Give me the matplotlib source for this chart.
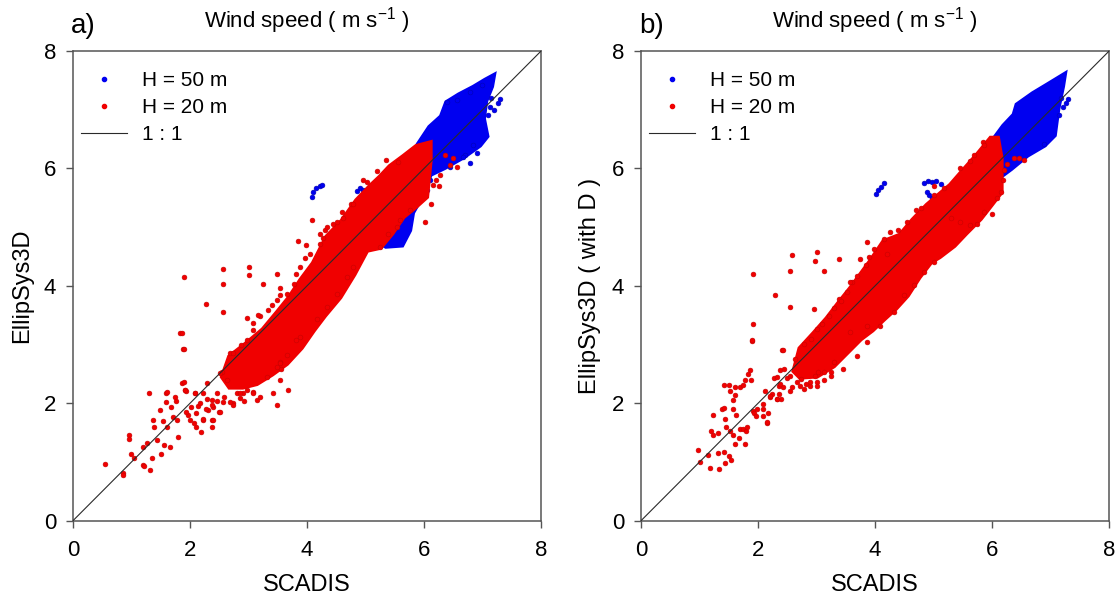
import matplotlib
matplotlib.use("Agg")
import matplotlib.pyplot as plt
from matplotlib.lines import Line2D

plt.rcParams['font.family'] = ['Liberation Sans', 'DejaVu Sans']
plt.rcParams['mathtext.fontset'] = 'custom'
plt.rcParams['mathtext.rm'] = 'Liberation Sans'
plt.rcParams['mathtext.it'] = 'Liberation Sans:italic'

# ---- panel a) : dense cores (outline of the solid clouds) ----
a_red_core_x = [2.56, 2.68, 2.95, 3.25, 3.50, 3.71, 3.90, 4.11, 4.34, 4.60, 4.85, 5.08, 5.25,
                5.42, 5.65, 5.87, 6.10, 6.10, 6.04, 5.85, 5.64, 5.45, 5.25, 5.02, 4.80, 4.56,
                4.30, 4.11, 3.90, 3.65, 3.40, 3.14, 2.90, 2.68]
a_red_core_y = [2.45, 2.79, 3.00, 3.25, 3.55, 3.81, 4.10, 4.38, 4.83, 5.10, 5.45, 5.69, 5.85,
                6.03, 6.20, 6.37, 6.43, 6.14, 5.52, 5.35, 5.18, 4.90, 4.66, 4.61, 4.20, 3.81,
                3.50, 3.25, 2.95, 2.68, 2.50, 2.34, 2.28, 2.28]
a_blue_core_x = [5.90, 6.10, 6.30, 6.39, 6.60, 6.85, 7.05, 7.18, 7.15, 7.05, 7.01, 7.07, 6.95,
                 6.67, 6.35, 6.10, 6.00, 5.80, 5.75, 5.62, 5.35, 5.18, 5.25, 5.45, 5.55, 5.70]
a_blue_core_y = [6.40, 6.70, 6.88, 7.12, 7.25, 7.38, 7.50, 7.57, 7.40, 7.15, 6.85, 6.55, 6.40,
                 6.20, 6.02, 5.90, 5.60, 5.25, 4.95, 4.70, 4.68, 4.78, 4.90, 5.05, 5.40, 5.80]

# ---- panel a) : scattered points (outliers + ragged edge of the cloud) ----
a_red_x = [0.55, 0.86, 0.86, 0.95, 0.96, 1.00, 1.04, 1.19, 1.20, 1.22, 1.30, 1.32, 1.27, 1.35,
           1.36, 1.38, 1.43, 1.49, 1.50, 1.54, 1.56, 1.59, 1.61, 1.59, 1.61, 1.65, 1.67, 1.71,
           1.74, 1.76, 1.77, 1.80, 1.83, 1.88, 1.86, 1.91, 1.94, 1.97, 2.00, 2.01, 2.09, 2.11,
           2.10, 2.14, 2.18, 2.23, 2.29, 2.29, 2.31, 2.37, 2.37, 2.40, 2.46, 2.46, 2.50, 2.54,
           2.58, 2.63, 2.68, 2.74, 2.80, 2.86, 2.91, 2.93, 2.97, 3.08, 3.14,
           1.89, 2.57, 3.01, 2.57, 3.00, 3.48, 3.25, 2.28, 2.56, 1.89, 1.86, 3.85, 3.99, 3.53,
           2.97, 3.20, 3.08, 1.89, 1.92, 2.09, 1.94, 2.06, 2.23, 2.40, 2.37, 2.51, 2.57, 2.74,
           2.85, 3.08, 3.20, 3.54, 3.56, 3.54, 3.65, 3.88, 3.68, 3.42, 3.48, 2.17, 2.37, 2.28,
           2.68, 2.23, 2.51,
           6.02, 6.16, 6.25, 6.27, 6.36, 6.44, 6.56, 6.50, 4.76, 5.02, 5.56, 5.59, 5.76,
           4.45, 4.60, 4.30, 4.95, 5.20, 5.35, 6.12, 6.20,
           3.08, 3.17, 3.34, 3.40, 3.48, 3.54, 3.65, 3.77, 3.82, 3.88, 3.97, 4.05, 4.22, 4.28,
           2.97, 2.88, 2.74, 4.22, 4.34, 4.51, 4.62, 4.79, 4.08,
           3.54, 3.82, 4.17, 4.34, 4.51, 4.68, 4.79, 3.31, 3.48, 5.53, 5.39, 5.25]
a_red_y = [0.96, 0.81, 0.78, 1.46, 1.39, 1.13, 1.06, 1.26, 0.95, 0.93, 2.17, 0.87, 1.32, 1.06,
           1.72, 1.60, 1.37, 1.89, 1.14, 1.70, 1.29, 2.17, 2.19, 2.02, 1.59, 1.26, 1.93, 1.77,
           2.11, 2.04, 1.72, 1.42, 3.19, 2.92, 2.35, 2.22, 2.21, 1.80, 1.71, 1.94, 2.17, 1.83,
           1.60, 1.95, 1.51, 1.71, 2.34, 2.08, 1.88, 2.05, 1.71, 1.94, 2.17, 2.04, 1.85, 2.53,
           2.10, 2.39, 2.85, 2.00, 2.17, 2.09, 2.17, 2.04, 2.22, 2.19, 2.05,
           4.15, 4.28, 4.32, 4.03, 4.18, 4.21, 4.03, 3.69, 3.56, 2.92, 3.19, 4.77, 4.69, 3.96,
           3.46, 3.48, 3.25, 2.36, 2.22, 2.17, 1.85, 1.66, 1.74, 1.71, 1.60, 1.85, 2.02, 1.97,
           2.17, 2.17, 2.11, 2.39, 2.59, 2.71, 2.82, 3.13, 2.22, 2.17, 1.97, 2.00, 1.97, 1.91,
           2.02, 2.17, 2.51,
           5.09, 5.72, 5.70, 5.89, 6.23, 6.06, 6.03, 6.17, 5.40, 5.77, 6.11, 5.12, 5.29,
           5.05, 5.25, 4.95, 5.80, 5.95, 6.15, 5.40, 5.80,
           3.36, 3.50, 3.59, 3.67, 3.76, 3.84, 3.87, 4.04, 4.21, 4.32, 4.47, 4.55, 4.72, 4.81,
           3.07, 2.99, 2.85, 4.89, 5.00, 5.09, 5.15, 5.40, 5.13,
           2.68, 3.07, 3.44, 3.64, 3.87, 4.15, 4.32, 2.45, 2.62, 5.00, 4.89, 4.66]
a_blue_x = [4.08, 4.11, 4.16, 4.22, 4.26, 4.85, 4.90, 4.96, 5.05, 5.12,
            7.30, 7.27, 7.13, 7.10, 7.15, 6.84, 6.70, 6.79, 7.20,
            6.39, 6.56, 6.79, 6.99, 6.90, 6.67, 6.44, 6.10, 6.05]
a_blue_y = [5.52, 5.60, 5.66, 5.70, 5.72, 5.62, 5.66, 5.63, 5.65, 5.60,
            7.19, 7.11, 7.05, 6.91, 7.20, 6.40, 6.23, 6.09, 7.00,
            7.13, 7.16, 7.30, 7.42, 6.26, 6.20, 6.03, 5.80, 5.63]

# ---- panel b) : dense cores ----
b_red_core_x = [2.62, 2.72, 2.95, 3.18, 3.38, 3.58, 3.75, 3.92, 4.15, 4.43, 4.65, 4.89, 5.10,
                5.29, 5.50, 5.75, 5.98, 6.09, 6.15, 6.15, 5.98, 5.80, 5.55, 5.35, 5.10, 4.95,
                4.75, 4.55, 4.35, 4.15, 3.95, 3.75, 3.50, 3.29, 3.01, 2.72]
b_red_core_y = [2.55, 2.93, 3.18, 3.44, 3.70, 3.95, 4.18, 4.41, 4.75, 4.86, 5.12, 5.37, 5.55,
                5.71, 5.95, 6.23, 6.51, 6.51, 6.17, 5.60, 5.38, 5.15, 4.90, 4.69, 4.50, 4.41,
                4.15, 3.84, 3.62, 3.44, 3.25, 3.10, 2.85, 2.64, 2.47, 2.45]
b_blue_core_x = [6.00, 6.20, 6.38, 6.43, 6.70, 6.95, 7.23, 7.20, 7.12, 7.06, 6.89, 6.60, 6.32,
                 6.09, 6.05]
b_blue_core_y = [6.45, 6.72, 6.91, 7.08, 7.27, 7.42, 7.59, 7.40, 7.02, 6.57, 6.40, 6.23, 6.00,
                 5.83, 6.20]

# ---- panel b) : scattered points ----
b_red_x = [0.98, 1.01, 1.18, 1.34, 1.15, 1.32, 1.44, 1.42, 1.50, 1.54, 1.19, 1.23, 1.31, 1.23,
           1.38, 1.41, 1.44, 1.46, 1.52, 1.58, 1.61, 1.67, 1.70, 1.75, 1.78, 1.80, 1.81, 1.63,
           1.58, 1.61, 1.57, 1.52, 1.41, 1.51, 1.61, 1.70, 1.74, 1.78, 1.82, 1.87, 1.88, 1.90,
           1.92, 1.93, 1.97, 1.99, 2.09, 2.09, 2.15, 2.17, 2.12, 2.21, 2.24, 2.28, 2.35, 2.36,
           2.32, 2.40, 2.41, 2.42, 2.38, 2.54, 2.58, 2.49, 2.67, 2.73, 2.78, 2.82, 2.88, 3.01,
           3.12, 3.12, 3.03,
           2.58, 3.01, 2.98, 3.38, 2.55, 3.13, 1.92, 2.29, 2.54, 2.95, 1.92, 1.90, 2.43, 3.38,
           3.61, 3.75, 3.86, 2.55, 2.44, 2.32, 2.38, 2.21, 2.09, 2.15, 2.32, 2.72, 2.89, 2.98,
           3.24, 3.29, 3.86, 3.58,
           5.63, 5.75, 6.00, 6.15, 6.26, 6.37, 6.46, 6.55, 6.18, 6.20, 5.29, 5.46,
           4.40, 4.70, 5.00, 5.85, 4.20,
           2.64, 2.79, 2.90, 3.01, 3.09, 3.21, 3.29, 3.41, 3.52, 3.58, 3.69, 3.84, 3.89, 3.98,
           4.15, 4.26, 3.01, 3.24, 3.46, 3.69, 3.86, 4.09, 4.32, 4.49, 4.66, 4.83, 5.01,
           4.55, 4.78, 5.01, 5.18, 5.46, 5.69, 5.86, 5.63, 5.86, 6.09]
b_red_y = [1.20, 1.00, 0.89, 0.88, 1.12, 1.15, 0.99, 1.17, 1.11, 1.04, 1.52, 1.46, 1.49, 1.80,
           1.91, 1.92, 1.74, 1.59, 1.52, 1.46, 1.31, 1.40, 1.57, 1.56, 1.31, 1.52, 1.59, 1.80,
           1.90, 2.14, 2.06, 2.21, 2.31, 2.31, 2.27, 2.27, 2.31, 2.39, 2.50, 2.57, 2.39, 3.06,
           1.87, 1.84, 1.78, 1.90, 1.99, 1.78, 1.66, 1.84, 2.21, 2.10, 2.16, 2.43, 2.30, 2.16,
           2.07, 2.07, 2.90, 2.28, 2.57, 2.21, 2.28, 2.43, 2.36, 2.42, 2.24, 2.33, 2.29, 2.36,
           2.39, 2.54, 2.54,
           4.53, 4.58, 4.42, 4.45, 4.25, 4.25, 4.21, 3.84, 3.64, 3.61, 3.35, 3.07, 2.90, 3.78,
           4.06, 4.46, 4.75, 2.47, 2.59, 2.44, 2.33, 2.13, 1.90, 1.68, 2.07, 2.30, 2.36, 2.47,
           2.53, 2.70, 3.32, 3.21,
           6.12, 5.06, 5.23, 5.60, 6.07, 6.17, 6.17, 6.14, 5.80, 5.98, 5.15, 5.09,
           4.95, 5.30, 5.70, 6.45, 4.55,
           2.75, 3.01, 3.10, 3.27, 3.35, 3.48, 3.62, 3.75, 3.89, 4.06, 4.17, 4.35, 4.49, 4.63,
           4.80, 4.92, 2.30, 2.47, 2.59, 2.81, 3.04, 3.32, 3.55, 3.84, 4.01, 4.24, 4.41,
           5.09, 5.32, 5.54, 5.66, 6.00, 6.23, 6.40, 5.03, 5.26, 5.49]
b_blue_x = [4.01, 4.05, 4.10, 4.15, 4.83, 4.90, 4.97, 5.05, 5.12, 4.92, 4.97, 4.88,
            5.33, 5.38, 5.41, 5.36, 5.30, 5.40, 5.45,
            7.29, 7.26, 7.15, 7.18, 6.89, 7.22]
b_blue_y = [5.56, 5.63, 5.69, 5.75, 5.75, 5.79, 5.77, 5.78, 5.74, 5.55, 5.50, 5.60,
            4.93, 4.96, 4.99, 5.00, 5.02, 4.90, 5.05,
            7.19, 7.11, 6.91, 7.20, 6.42, 7.05]

axis_ticks = [0, 2, 4, 6, 8]
legend_labels = ['H = 50 m', 'H = 20 m', '1 : 1']

RED = '#f00000'
RED_EDGE = '#c80000'
BLUE = '#0000f0'
BLUE_EDGE = '#0000b4'


def draw_panel(ax, tag, ylabel, red_core, blue_core, red_pts, blue_pts):
    ax.fill(blue_core[0], blue_core[1], color=BLUE, lw=4, ec=BLUE, zorder=1)
    ax.scatter(blue_pts[0], blue_pts[1], s=12, c=BLUE, edgecolors=BLUE_EDGE,
               linewidths=0.4, zorder=2)
    ax.fill(red_core[0], red_core[1], color=RED, lw=4, ec=RED, zorder=3)
    ax.scatter(red_pts[0], red_pts[1], s=12, c=RED, edgecolors=RED_EDGE,
               linewidths=0.4, zorder=4)
    ax.plot([0, 8], [0, 8], color='#2a2a2a', lw=0.8, zorder=5)

    ax.set_xlim(0, 8)
    ax.set_ylim(0, 8)
    ax.set_xticks(axis_ticks)
    ax.set_yticks(axis_ticks)
    ax.tick_params(direction='out', length=5, width=1, color='#555555', labelsize=16)
    ax.tick_params(axis='x', pad=9)
    ax.tick_params(axis='y', pad=7)
    for sp in ax.spines.values():
        sp.set_color('#555555')
        sp.set_linewidth(1.1)
    ax.set_xlabel('SCADIS', fontsize=17, labelpad=9)
    ax.set_ylabel(ylabel, fontsize=17, labelpad=8)

    ax.text(-0.004, 1.053, tag, transform=ax.transAxes, fontsize=20,
            ha='left', va='center')
    ax.text(0.5, 1.064, r'Wind speed ( m s$^{-1}$ )', transform=ax.transAxes,
            fontsize=16, ha='center', va='center')

    handles = [
        Line2D([], [], ls='none', marker='o', ms=3, color=BLUE),
        Line2D([], [], ls='none', marker='o', ms=3, color=RED),
        Line2D([], [], color='#2a2a2a', lw=0.8),
    ]
    ax.legend(handles, legend_labels, loc='upper left', frameon=False, fontsize=15,
              handlelength=2.2, handletextpad=0.7, labelspacing=0.38,
              borderaxespad=0.0, bbox_to_anchor=(0.0, 0.975))


fig = plt.figure(figsize=(11.16, 6.0), dpi=100)
ax_a = fig.add_axes([0.0654, 0.1322, 0.4194, 0.7827])
ax_b = fig.add_axes([0.5744, 0.1322, 0.4194, 0.7827])

draw_panel(ax_a, 'a)', 'EllipSys3D',
           (a_red_core_x, a_red_core_y), (a_blue_core_x, a_blue_core_y),
           (a_red_x, a_red_y), (a_blue_x, a_blue_y))
draw_panel(ax_b, 'b)', 'EllipSys3D ( with D )',
           (b_red_core_x, b_red_core_y), (b_blue_core_x, b_blue_core_y),
           (b_red_x, b_red_y), (b_blue_x, b_blue_y))

fig.savefig('out.png', dpi=100)
